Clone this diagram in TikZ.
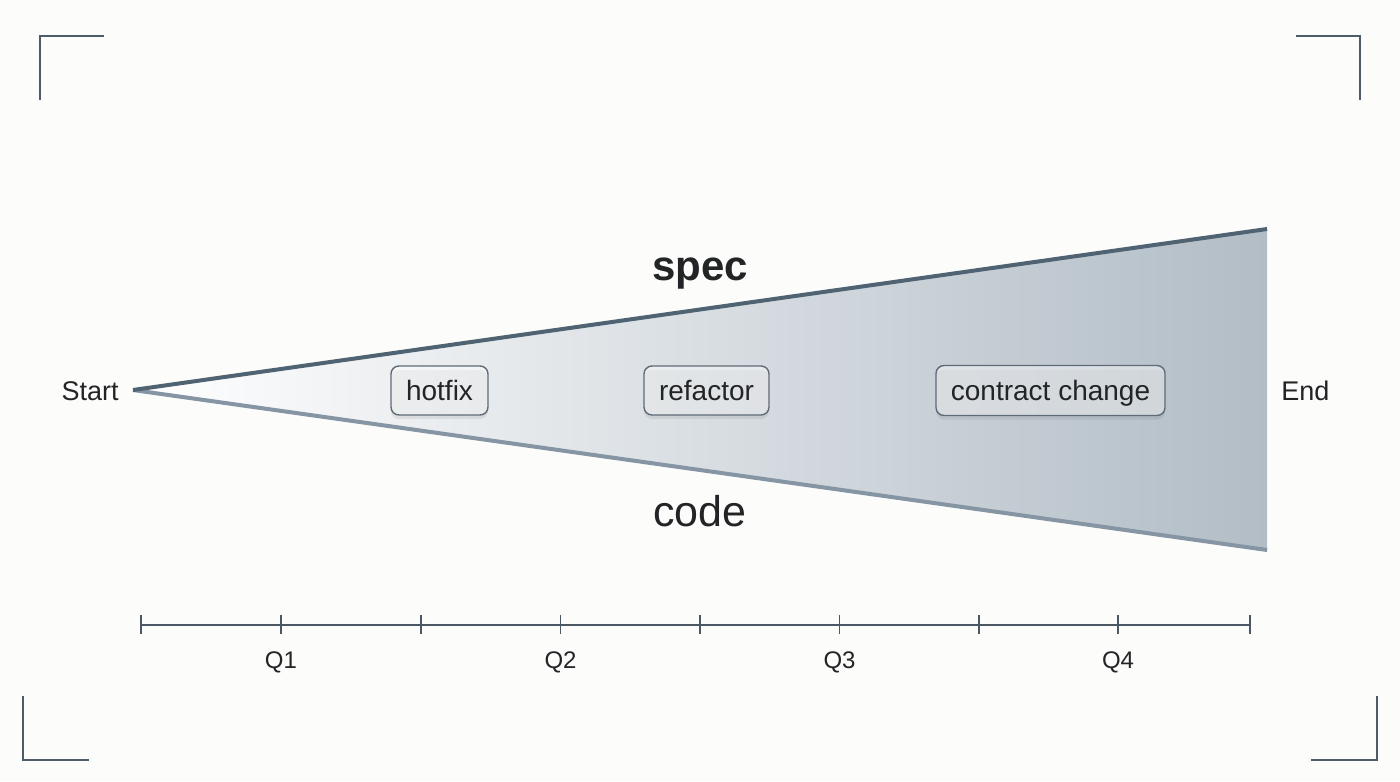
\documentclass[tikz,border=0pt]{standalone}
\usepackage{fontspec}
\setmainfont{Liberation Sans}
\usetikzlibrary{shadows}
\definecolor{bg}{HTML}{FCFCFA}
\definecolor{frame}{HTML}{4E5C69}
\definecolor{edgetop}{HTML}{4F6373}
\definecolor{edgebot}{HTML}{8595A4}
\definecolor{wedgeend}{HTML}{B2BDC6}
\definecolor{wedgemid}{HTML}{E5E8EB}
\definecolor{boxline}{HTML}{5F6B76}
\definecolor{txt}{HTML}{222426}
\definecolor{axis}{HTML}{4A5866}
\tikzset{
  corner/.style={draw=frame, line width=1pt},
  lbl/.style={text=txt, inner sep=0pt, font=\fontsize{13.5}{15}\selectfont},
  qlbl/.style={text=txt, inner sep=0pt, anchor=base, font=\fontsize{12}{14}\selectfont},
  tag/.style={draw=boxline, line width=0.7pt, rounded corners=4pt, fill=white,
    fill opacity=0.45, text opacity=1, text=txt, inner sep=0pt,
    text height=12.5pt, text depth=3pt,
    font=\fontsize{14}{16}\selectfont,
    drop shadow={shadow xshift=0pt, shadow yshift=-2pt, opacity=0.07, fill=black}},
  tick/.style={draw=axis, line width=0.6pt},
}
\begin{document}
\begin{tikzpicture}[x=0.5pt,y=-0.5pt]
\useasboundingbox (0,0) rectangle (1400,781);
\fill[bg] (0,0) rectangle (1400,781);
% corner brackets
\draw[corner] (40,100) -- (40,36.5) -- (104,36.5);
\draw[corner] (1296,36.5) -- (1360,36.5) -- (1360,100);
\draw[corner] (23,696) -- (23,760) -- (89,760);
\draw[corner] (1311,760) -- (1377,760) -- (1377,696);
% wedge
\coordinate (apex) at (133,390);
\coordinate (tr) at (1267,229);
\coordinate (br) at (1267,550);
\shade[left color=white, middle color=wedgemid, right color=wedgeend, shading angle=90]
  (apex) -- (tr) -- (br) -- cycle;
\draw[edgebot, line width=2pt, line cap=butt] (apex) -- (br);
\draw[edgetop, line width=2pt, line cap=butt] (apex) -- (tr);
% labels
\node[lbl, anchor=east] (start) at (119,391) {Start};
\node[lbl, anchor=west] (end) at (1281,391) {End};
\node[text=txt, inner sep=0pt, anchor=base, font=\fontsize{21}{24}\selectfont\bfseries] (spec) at (700,280) {spec};
\node[text=txt, inner sep=0pt, anchor=base, font=\fontsize{21.5}{24}\selectfont] (code) at (700,526) {code};
% tags
\node[tag, minimum width=48.5pt, minimum height=24.5pt] (hotfix) at (439.5,390.5) {hotfix};
\node[tag, minimum width=62.5pt, minimum height=24.5pt] (refactor) at (706.5,390.5) {refactor};
\node[tag, minimum width=114.5pt, minimum height=25pt] (contract) at (1050.5,390.5) {contract change};
% axis
\coordinate (a0) at (141,625);
\coordinate (a8) at (1250,625);
\draw[tick] (a0) -- (a8);
\foreach \x in {141,281,421,560.5,700,839.5,979,1118,1250}{
  \draw[tick] (\x,615) -- (\x,634);
}
\node[qlbl] (q1) at (281,668) {Q1};
\node[qlbl] (q2) at (560.5,668) {Q2};
\node[qlbl] (q3) at (839.5,668) {Q3};
\node[qlbl] (q4) at (1118,668) {Q4};
\end{tikzpicture}
\end{document}
